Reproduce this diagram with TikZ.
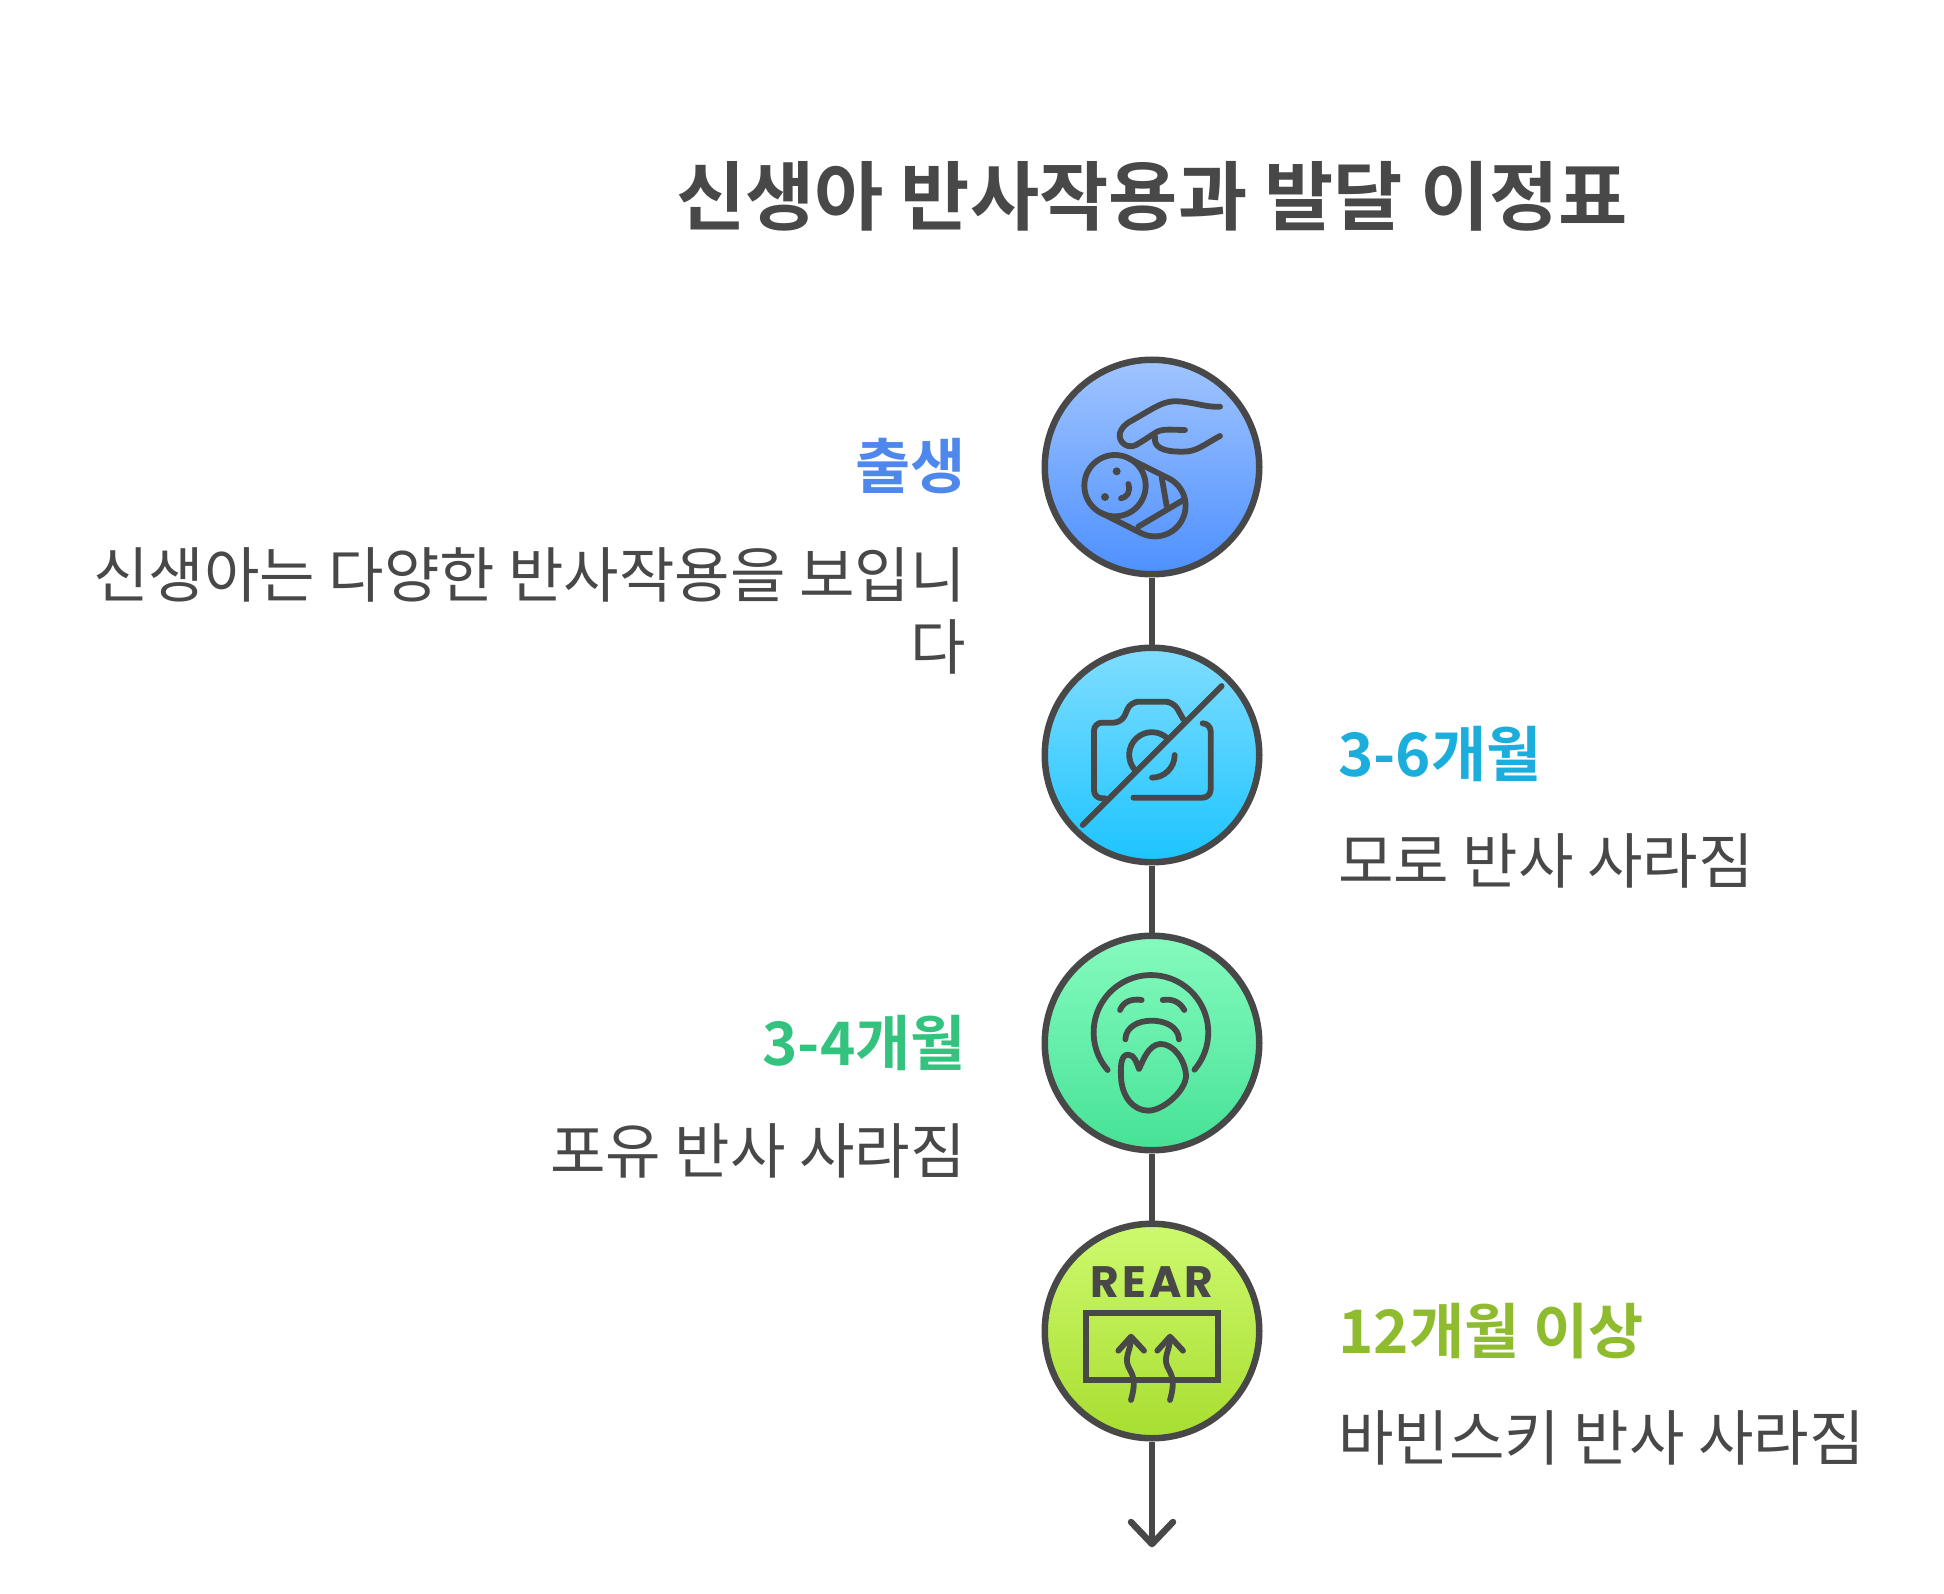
\documentclass[tikz,border=0pt]{standalone}
\usepackage{fontspec}
\setmainfont{Noto Sans CJK KR}[BoldFont={Noto Sans CJK KR Bold}]
\newfontfamily\reartext{Poppins}[BoldFont={Poppins Bold},LetterSpace=7]
\definecolor{ink}{HTML}{484848}
\definecolor{cblue}{HTML}{4E88EC}
\definecolor{ccyan}{HTML}{1BAEDD}
\definecolor{cgreen}{HTML}{34C37F}
\definecolor{clime}{HTML}{8FBC2F}
\definecolor{blueA}{HTML}{A0C4FF}
\definecolor{blueB}{HTML}{4D90FF}
\definecolor{cyanA}{HTML}{80DDFF}
\definecolor{cyanB}{HTML}{1CC4FF}
\definecolor{greenA}{HTML}{85FBBE}
\definecolor{greenB}{HTML}{46E296}
\definecolor{limeA}{HTML}{CDF96E}
\definecolor{limeB}{HTML}{A8DE30}
\tikzset{
  stepdisc/.style={circle,draw=ink,line width=6.5pt,minimum size=214.5pt,inner sep=0pt},
  link/.style={draw=ink,line width=6.5pt},
  glyph/.style={draw=ink,line width=5.8pt,line cap=round,line join=round},
  headline/.style={font=\bfseries\fontsize{60}{60}\selectfont,inner sep=0pt},
  bodyline/.style={text=ink,font=\fontsize{60.3}{72}\selectfont,inner sep=0pt},
}
\begin{document}
\begin{tikzpicture}[x=1pt,y=-1pt]
\useasboundingbox (0,0) rectangle (1944,1594);
\fill[white] (0,0) rectangle (1944,1594);

\node[text=ink,font=\bfseries\fontsize{75.3}{75.3}\selectfont,inner sep=0pt,anchor=base] (title) at (1152,225) {신생아 반사작용과 발달 이정표};

\node[stepdisc,top color=blueA,bottom color=blueB] (n1) at (1152,467) {};
\node[stepdisc,top color=cyanA,bottom color=cyanB] (n2) at (1152,755) {};
\node[stepdisc,top color=greenA,bottom color=greenB] (n3) at (1152,1043) {};
\node[stepdisc,top color=limeA,bottom color=limeB] (n4) at (1152,1331) {};
\coordinate (tip) at (1152,1544);
\coordinate (barbL) at (1131,1522);
\coordinate (barbR) at (1173,1522);

\draw[link] (n1.south) -- (n2.north);
\draw[link] (n2.south) -- (n3.north);
\draw[link] (n3.south) -- (n4.north);
\draw[link] (n4.south) -- (tip);
\draw[glyph,line width=6.5pt] (barbL) -- (tip) -- (barbR);

% labels
\node[headline,text=cblue,anchor=base east] (h1) at (966,488) {출생};
\node[bodyline,anchor=base east,align=right] (b1) at (966,669) {신생아는 다양한 반사작용을 보입니\\다};
\node[headline,text=ccyan,anchor=base west] (h2) at (1338,776) {3-6개월};
\node[bodyline,anchor=base west] (b2) at (1338,883) {모로 반사 사라짐};
\node[headline,text=cgreen,anchor=base east] (h3) at (966,1065) {3-4개월};
\node[bodyline,anchor=base east] (b3) at (966,1173) {포유 반사 사라짐};
\node[headline,text=clime,anchor=base west] (h4) at (1338,1353) {12개월 이상};
\node[bodyline,anchor=base west] (b4) at (1338,1460) {바빈스키 반사 사라짐};

% baby icon
\begin{scope}[shift={(1020,340)},scale=1/3]
\draw[glyph] (600,200) .. controls (560,204) and (510,182) .. (460,184) .. controls (425,186) and (400,205) .. (335,242) .. controls (295,262) and (290,295) .. (312,312) .. controls (330,325) and (345,318) .. (360,308) -- (410,276) .. controls (430,265) and (460,270) .. (495,270);
\draw[glyph] (405,290) .. controls (400,320) and (425,336) .. (490,335) .. controls (530,335) and (550,315) .. (600,288);
\draw[glyph] (285,437) circle [radius=92];
\draw[glyph] (326,355) -- (446,415) arc [start angle=-63.4,end angle=116.6,radius=92] -- (244,519);
\draw[glyph] (425,412) -- (440,498);
\draw[glyph] (355,560) -- (490,480);
\fill[ink] (290,394) circle [radius=12];
\fill[ink] (255,471) circle [radius=12];
\draw[glyph] (325,432) .. controls (332,455) and (322,472) .. (303,475);
\end{scope}

% camera icon
\begin{scope}[shift={(1020,630)},scale=1/3]
\draw[glyph,rounded corners=8pt] (255,505) -- (222,505) -- (222,278) -- (305,278) -- (332,215) -- (460,215) -- (490,268);
\draw[glyph,rounded corners=8pt] (548,280) -- (572,280) -- (572,503) -- (340,503);
\draw[glyph] (345,420) arc [start angle=138,end angle=314,radius=68];
\draw[glyph] (464,375) arc [start angle=0,end angle=90,radius=68];
\draw[glyph] (605,168) -- (188,585);
\end{scope}

% mouth icon
\begin{scope}[shift={(1020,920)},scale=1/3]
\draw[glyph] (263,450) arc [start angle=139,end angle=400.6,radius=172];
\draw[glyph] (300,270) .. controls (310,245) and (335,235) .. (365,240);
\draw[glyph] (428,240) .. controls (460,235) and (480,248) .. (493,270);
\draw[glyph] (316,358) .. controls (318,320) and (355,302) .. (395,302) .. controls (435,302) and (475,320) .. (477,358);
\draw[glyph] (357,447) .. controls (350,430) and (345,405) .. (325,404) .. controls (305,404) and (301,430) .. (303,470) .. controls (305,530) and (340,572) .. (385,572) .. controls (430,572) and (500,510) .. (498,465) .. controls (495,420) and (460,370) .. (420,372) .. controls (385,375) and (370,420) .. (357,447);
\end{scope}

% REAR icon
\node[text=ink,font=\reartext\bfseries\fontsize{44}{44}\selectfont,inner sep=0pt,anchor=base] (rear) at (1152,1297) {REAR};
\begin{scope}[shift={(1020,1210)},scale=1/3]
\draw[glyph,line width=6pt,line cap=butt,line join=miter] (197,310) rectangle (595,510);
\foreach \dx in {0,117}{
  \begin{scope}[xshift=\dx]
  \draw[glyph] (295,422) -- (333,380) -- (372,422);
  \draw[glyph] (333,385) .. controls (333,420) and (312,440) .. (325,470) .. controls (338,495) and (350,510) .. (333,570);
  \end{scope}
}
\end{scope}
\end{tikzpicture}
\end{document}
